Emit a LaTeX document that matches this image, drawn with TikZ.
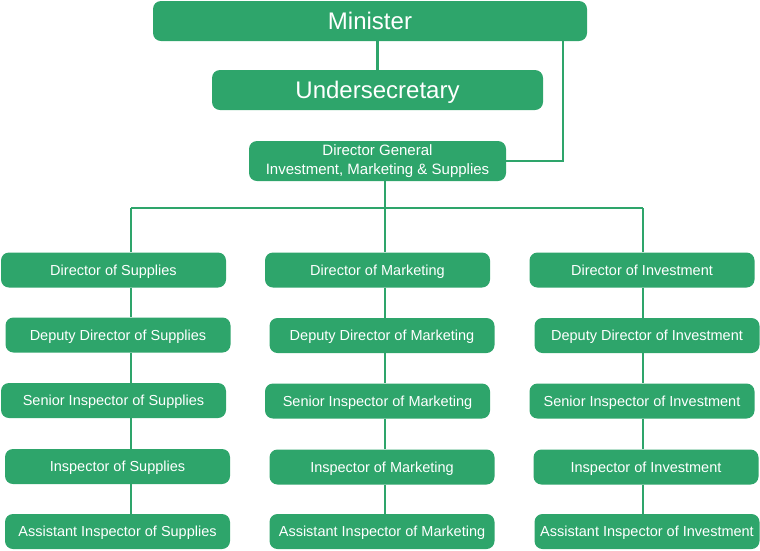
\documentclass[tikz,border=0pt]{standalone}
\usepackage{fontspec}
\setmainfont{Liberation Sans}
\usetikzlibrary{positioning}

\definecolor{orggreen}{RGB}{46,165,107}

\begin{document}
\begin{tikzpicture}[
        x=1pt, y=-1pt,
        every node/.style={font=\fontsize{14.5}{17}\selectfont, text=white},
        post/.style={fill=orggreen, rounded corners=8pt, inner sep=0pt,
            minimum width=225pt, minimum height=35pt, align=center,
            text height=11pt, text depth=0.6pt},
        bigpost/.style={post, font=\fontsize{24}{28}\selectfont, minimum height=40pt,
            text height=17pt, text depth=1pt},
        link/.style={orggreen, line width=2.8pt}
    ]

    % Fixed canvas
    \useasboundingbox (0,0) rectangle (760,550);

    % Top of the ministry
    \node[bigpost, minimum width=434pt] (minister) at (370,21) {Minister};
    \node[bigpost, minimum width=331pt] (undersec) at (377.5,90) {Undersecretary};
    \node[post, minimum width=257pt, minimum height=40pt, text height={}, text depth={},
        font=\fontsize{15}{19}\selectfont] (dg) at (377.5,161)
        {Director General\\Investment, Marketing \& Supplies};

    % Supplies column
    \node[post] (dirsup) at (113.5,270) {Director of Supplies};
    \node[post] (depsup) at (118,335) {Deputy Director of Supplies};
    \node[post] (sensup) at (113.5,400.5) {Senior Inspector of Supplies};
    \node[post] (inssup) at (117.5,466.5) {Inspector of Supplies};
    \node[post] (asssup) at (117.5,531.5) {Assistant Inspector of Supplies};

    % Marketing column
    \node[post] (dirmar) at (377.5,270) {Director of Marketing};
    \node[post] (depmar) at (382,335.5) {Deputy Director of Marketing};
    \node[post] (senmar) at (377.5,401) {Senior Inspector of Marketing};
    \node[post] (insmar) at (382,467) {Inspector of Marketing};
    \node[post] (assmar) at (382,531.5) {Assistant Inspector of Marketing};

    % Investment column
    \node[post] (dirinv) at (642,270) {Director of Investment};
    \node[post] (depinv) at (647,335.5) {Deputy Director of Investment};
    \node[post] (seninv) at (642,401) {Senior Inspector of Investment};
    \node[post] (insinv) at (646,467) {Inspector of Investment};
    \node[post] (assinv) at (647,531.5) {Assistant Inspector of Investment};

    % Column lines
    \coordinate (colS) at (131,0);
    \coordinate (colM) at (385,0);
    \coordinate (colI) at (643,0);
    \coordinate (bus) at (0,208);

    % Links at the top
    \draw[link] (minister.south -| undersec.north) -- (undersec.north);
    \draw[link] (minister.south -| 563,0) |- (dg.east);
    \draw[link] (dg.south -| colM) -- (bus -| colM);
    \draw[link] (bus -| colS) -- (bus -| colI);
    \draw[link] (bus -| colS) -- (dirsup.north -| colS);
    \draw[link] (bus -| colM) -- (dirmar.north -| colM);
    \draw[link] (bus -| colI) -- (dirinv.north -| colI);

    % Links down each column
    \foreach \upper/\lower/\col in {dirsup/depsup/colS, depsup/sensup/colS,
            sensup/inssup/colS, inssup/asssup/colS,
            dirmar/depmar/colM, depmar/senmar/colM,
            senmar/insmar/colM, insmar/assmar/colM,
            dirinv/depinv/colI, depinv/seninv/colI,
            seninv/insinv/colI, insinv/assinv/colI}
        \draw[link] (\upper.south -| \col) -- (\lower.north -| \col);

\end{tikzpicture}
\end{document}
